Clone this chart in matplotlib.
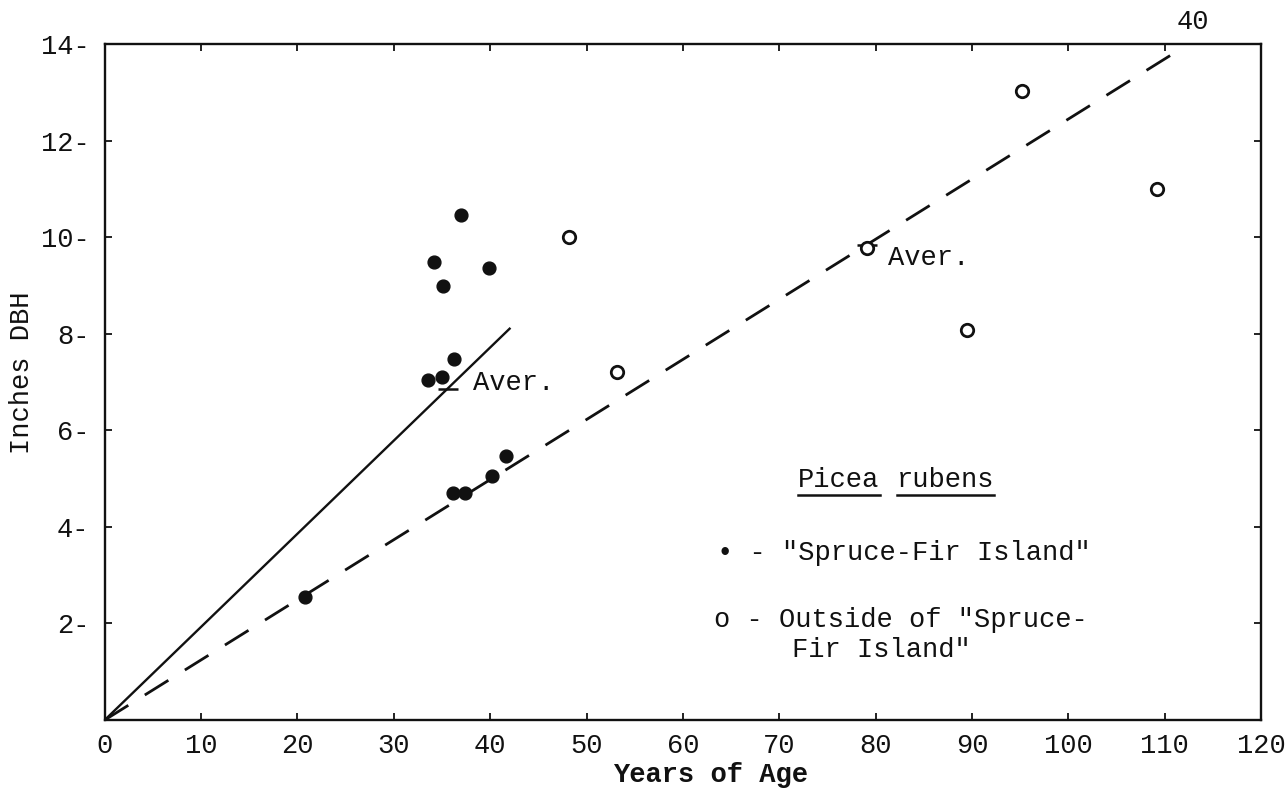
import numpy as np
import matplotlib
matplotlib.use("Agg")
import matplotlib.pyplot as plt
from matplotlib.lines import Line2D

plt.rcParams['font.family'] = ['Liberation Mono', 'DejaVu Sans Mono']

# "Spruce-Fir Island" trees (filled dots): age in years, DBH in inches
island_age = [37.0, 34.2, 39.9, 35.1, 36.2, 33.5, 35.0, 41.6, 40.2, 36.1, 37.4, 20.8]
island_dbh = [10.46, 9.48, 9.36, 8.99, 7.47, 7.04, 7.10, 5.47, 5.05, 4.70, 4.70, 2.55]

# trees outside of the "Spruce-Fir Island" (open circles)
outside_age = [48.2, 53.2, 79.1, 89.5, 95.2, 109.2]
outside_dbh = [10.0, 7.2, 9.77, 8.07, 13.02, 10.99]

# how far each average line was drawn (years)
island_line_end = 42.1
outside_line_end = 111.0

x_ticks = list(range(0, 121, 10))
y_ticks = list(range(2, 15, 2))
y_tick_labels = [f"{v}-" for v in y_ticks]

ink = '#111111'
fs = 19.5

# averages -> lines through the origin
island_mean = (np.mean(island_age), np.mean(island_dbh))
outside_mean = (np.mean(outside_age), np.mean(outside_dbh))
island_slope = island_mean[1] / island_mean[0]
outside_slope = outside_mean[1] / outside_mean[0]

fig = plt.figure(figsize=(12.85, 7.9), dpi=100)
ax = fig.add_axes([0.0815, 0.0886, 0.9, 0.8557])

xs = np.array([0, island_line_end])
ax.plot(xs, island_slope * xs, color=ink, lw=1.7, solid_capstyle='butt')
xd = np.array([0, outside_line_end])
ax.plot(xd, outside_slope * xd, color=ink, lw=2.0, dashes=(10, 7))

ax.scatter(island_age, island_dbh, s=85, color=ink, zorder=3)
ax.scatter(outside_age, outside_dbh, s=80, facecolor='white', edgecolor=ink,
           linewidth=2.0, zorder=3)

# average marks
ax.plot(*island_mean, marker='_', markersize=14, mew=1.8, color=ink)
ax.plot(*outside_mean, marker='_', markersize=14, mew=1.8, color=ink)
ax.text(38.2, 6.98, "Aver.", fontsize=fs, color=ink, va='center', ha='left')
ax.text(81.3, 9.57, "Aver.", fontsize=fs, color=ink, va='center', ha='left')

ax.set_xlim(0, 120)
ax.set_ylim(0, 14)
ax.set_xticks(x_ticks)
ax.set_xticklabels([str(v) for v in x_ticks])
ax.set_yticks(y_ticks)
ax.set_yticklabels(y_tick_labels)
ax.tick_params(direction='in', top=True, right=True, length=5, width=1.3,
               labelsize=fs, colors=ink)
ax.tick_params(axis='x', pad=9)
ax.tick_params(axis='y', pad=11)
for sp in ax.spines.values():
    sp.set_linewidth(1.7)
    sp.set_color(ink)

ax.text(0.524, -0.081, "Years of Age", transform=ax.transAxes, fontsize=fs,
        color=ink, ha='center', va='center', fontweight='bold')
ax.text(-0.0715, 0.513, "Inches DBH", transform=ax.transAxes, fontsize=fs,
        color=ink, ha='center', va='center', rotation=90)

# legend block, typed
w1 = ax.text(0.670, 0.355, "Picea", transform=ax.transAxes, fontsize=fs,
             color=ink, ha='right', va='center')
w2 = ax.text(0.685, 0.355, "rubens", transform=ax.transAxes, fontsize=fs,
             color=ink, ha='left', va='center')
ax.text(0.529, 0.247, '\u2022 - "Spruce-Fir Island"', transform=ax.transAxes,
        fontsize=fs, color=ink, ha='left', va='center')
ax.text(0.527, 0.148, 'o - Outside of "Spruce-', transform=ax.transAxes,
        fontsize=fs, color=ink, ha='left', va='center')
ax.text(0.594, 0.104, 'Fir Island"', transform=ax.transAxes,
        fontsize=fs, color=ink, ha='left', va='center')

fig.text(1193 / 1285, 1 - 22 / 790, "40", fontsize=fs, color=ink,
         ha='center', va='center')

# typed underline under each word of the species name
fig.canvas.draw()
r = fig.canvas.get_renderer()
for w in (w1, w2):
    bb = w.get_window_extent(r)
    y = bb.y0 - 2
    fig.add_artist(Line2D([bb.x0 / 1285, bb.x1 / 1285], [y / 790, y / 790],
                          color=ink, lw=1.8, transform=fig.transFigure))

fig.savefig("out.png", dpi=100, facecolor='white')
